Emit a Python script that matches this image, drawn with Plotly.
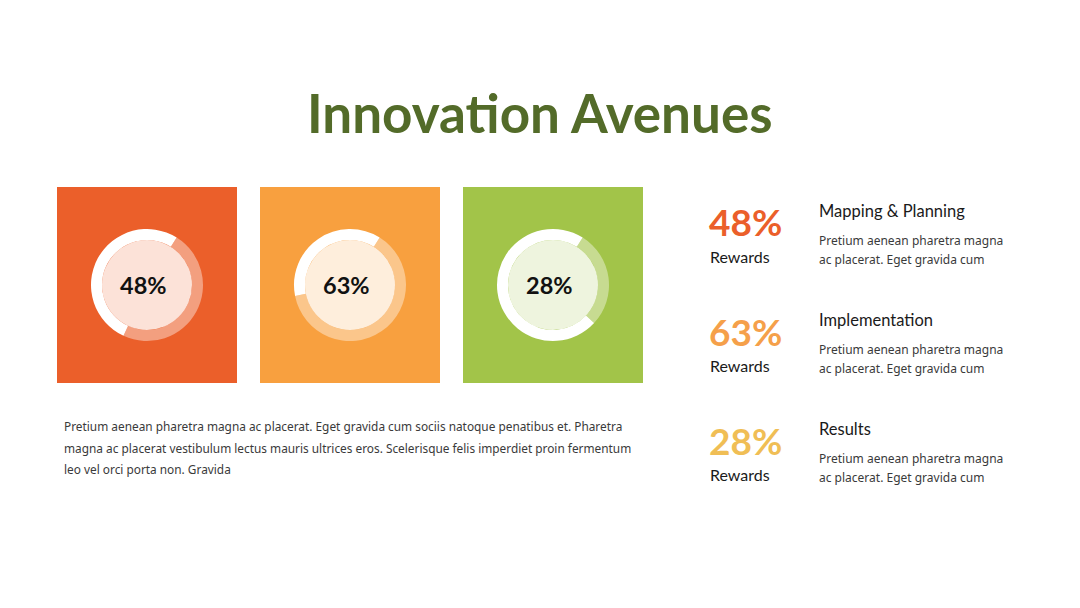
import plotly.graph_objects as go

W, H = 1080, 608

# ---- data ----
values = [48, 63, 28]
box_colors = ["#EB5F2A", "#F8A03F", "#A2C449"]
pct_colors = ["#EB5F2A", "#F5A04A", "#F0BE55"]
titles = ["Mapping & Planning", "Implementation", "Results"]
reward_label = "Rewards"
desc_lines = ["Pretium aenean pharetra magna", "ac placerat. Eget gravida cum"]
paragraph_lines = [
    "Pretium aenean pharetra magna ac placerat. Eget gravida cum sociis natoque penatibus et. Pharetra",
    "magna ac placerat vestibulum lectus mauris ultrices eros. Scelerisque felis imperdiet proin fermentum",
    "leo vel orci porta non. Gravida",
]
chart_title = "Innovation Avenues"


def px(x):
    return x / W


def py(y):
    return 1 - y / H


fig = go.Figure()
shapes = []
annotations = []


def label(text, x, y, size, color, family="Lato", xanchor="left"):
    annotations.append(dict(text=text, x=px(x), y=py(y), xref="paper", yref="paper",
                            xanchor=xanchor, yanchor="middle", align="left", showarrow=False,
                            font=dict(family=family, size=size, color=color)))


box_left = [57, 260, 463]
box_w, box_top, box_bot = 180, 187, 383
R_out, R_in = 56, 45

for i, v in enumerate(values):
    x0 = box_left[i]
    cx = x0 + box_w / 2
    cy = (box_top + box_bot) / 2
    shapes.append(dict(type="rect", xref="paper", yref="paper",
                       x0=px(x0), x1=px(x0 + box_w), y0=py(box_bot), y1=py(box_top),
                       fillcolor=box_colors[i], line=dict(width=0), layer="below"))
    shapes.append(dict(type="circle", xref="paper", yref="paper",
                       x0=px(cx - R_in), x1=px(cx + R_in), y0=py(cy + R_in), y1=py(cy - R_in),
                       fillcolor="rgba(255,255,255,0.82)", line=dict(width=0), layer="below"))
    fig.add_trace(go.Pie(
        values=[v, 100 - v], sort=False, direction="clockwise", rotation=32,
        hole=R_in / R_out,
        marker=dict(colors=["rgba(255,255,255,0.4)", "#FFFFFF"], line=dict(width=0)),
        textinfo="none", hoverinfo="skip", showlegend=False,
        domain=dict(x=[px(cx - R_out), px(cx + R_out)], y=[py(cy + R_out), py(cy - R_out)]),
    ))
    label(f"<b>{v}%</b>", cx - 4, cy, 23.5, "#111111", xanchor="center")

    # right side
    ry = 211 + i * 109
    label(f"<b>{v}%</b>", 707, ry + 11, 37, pct_colors[i])
    label(reward_label, 708, ry + 45, 16, "#1a1a1a")
    label(titles[i], 817, ry, 16.5, "#1a1a1a")
    for k, line in enumerate(desc_lines):
        label(line, 817, ry + 29 + k * 19, 12, "#3a3a3a", family="Noto Sans")

label(f"<b>{chart_title}</b>", W / 2, 112, 53, "#536B29", xanchor="center")
for k, line in enumerate(paragraph_lines):
    label(line, 62, 426 + k * 21.5, 11.85, "#3a3a3a", family="Noto Sans")

fig.update_layout(width=W, height=H, margin=dict(l=0, r=0, t=0, b=0),
                  paper_bgcolor="white", plot_bgcolor="white",
                  shapes=shapes, annotations=annotations)
fig.write_html("out.html", config={"displayModeBar": False},
               post_script="document.body.style.margin='0';")
